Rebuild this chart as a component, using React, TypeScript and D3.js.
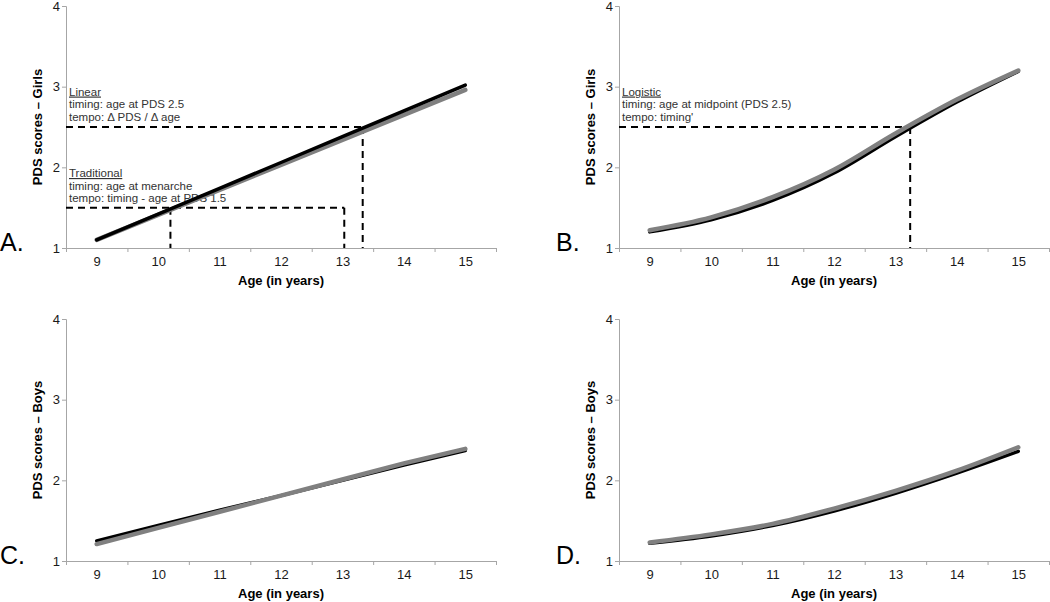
import React, { useRef, useEffect } from "react";
import * as d3 from "d3";

// Edad (categorías del eje X)
const ages = [9, 10, 11, 12, 13, 14, 15];
const yTicks = [1, 2, 3, 4];

// Series
const girlsLinearBlack = [1.1, 1.42, 1.74, 2.06, 2.38, 2.7, 3.02];
const girlsLinearGray = [1.1, 1.41, 1.72, 2.03, 2.34, 2.65, 2.96];
const girlsLogisticBlack = [1.2, 1.35, 1.59, 1.93, 2.38, 2.81, 3.19];
const girlsLogisticGray = [1.22, 1.38, 1.63, 1.97, 2.42, 2.84, 3.2];
const boysLinearBlack = [1.25, 1.44, 1.63, 1.81, 2.0, 2.19, 2.37];
const boysLinearGray = [1.21, 1.41, 1.61, 1.81, 2.01, 2.21, 2.39];
const boysLogisticBlack = [1.22, 1.31, 1.44, 1.62, 1.84, 2.09, 2.36];
const boysLogisticGray = [1.23, 1.33, 1.46, 1.65, 1.87, 2.12, 2.41];

// Líneas de referencia (edad, PDS)
const linearTiming = { age: 13.33, pds: 2.5 };
const traditional = { menarche: 10.2, end: 13.03, pds: 1.5 };
const logisticTiming = { age: 13.24, pds: 2.5 };

const linearNotes = ["Linear", "timing: age at PDS 2.5", "tempo: \u0394 PDS / \u0394 age"];
const traditionalNotes = ["Traditional", "timing: age at menarche", "tempo: timing - age at PDS 1.5"];
const logisticNotes = ["Logistic", "timing: age at midpoint (PDS 2.5)", "tempo: timing'"];

const FONT = "'Liberation Sans', Arial, sans-serif";

const panels = [
  { key: "A", left: 66, top: 6, yTitle: "PDS scores \u2013 Girls", black: girlsLinearBlack, gray: girlsLinearGray, blackOnTop: true, kind: "linear" },
  { key: "B", left: 619, top: 6, yTitle: "PDS scores \u2013 Girls", black: girlsLogisticBlack, gray: girlsLogisticGray, blackOnTop: false, kind: "logistic" },
  { key: "C", left: 66, top: 319, yTitle: "PDS scores \u2013 Boys", black: boysLinearBlack, gray: boysLinearGray, blackOnTop: false, kind: "none" },
  { key: "D", left: 619, top: 319, yTitle: "PDS scores \u2013 Boys", black: boysLogisticBlack, gray: boysLogisticGray, blackOnTop: false, kind: "none" },
];

const App = () => {
  const ref = useRef<SVGSVGElement>(null);

  useEffect(() => {
    const root = d3.select(ref.current);
    root.selectChildren().remove();

    const w = 430,
      h = 242;

    panels.forEach((p) => {
      const g = root
        .append("g")
        .attr("transform", `translate(${p.left}, ${p.top})`)
        .style("font-family", FONT);

      const x = d3.scaleLinear().domain([8.5, 15.5]).range([0, w]);
      const y = d3.scaleLinear().domain([1, 4]).range([h, 0]);

      // Eje Y
      const yAxis = g
        .append("g")
        .call(d3.axisLeft(y).tickValues(yTicks).tickFormat(d3.format("d")).tickSize(4).tickPadding(2));
      yAxis.select(".domain").attr("stroke", "#a6a6a6");
      yAxis.selectAll(".tick line").attr("stroke", "#a6a6a6");
      yAxis.selectAll("text").style("font-size", "13px").attr("fill", "#1a1a1a").style("font-family", FONT);

      // Eje X: marcas en los límites de categoría
      const xAxis = g
        .append("g")
        .attr("transform", `translate(0, ${h})`)
        .call(d3.axisBottom(x).tickValues(d3.range(8.5, 15.6, 1)).tickFormat(() => "").tickSize(4).tickSizeOuter(0));
      xAxis.select(".domain").attr("stroke", "#a6a6a6");
      xAxis.selectAll(".tick line").attr("stroke", "#a6a6a6");

      const xLabels = g
        .append("g")
        .attr("transform", `translate(0, ${h})`)
        .call(d3.axisBottom(x).tickValues(ages).tickFormat(d3.format("d")).tickSize(0).tickPadding(9));
      xLabels.select(".domain").remove();
      xLabels.selectAll("text").style("font-size", "13px").attr("fill", "#1a1a1a").style("font-family", FONT);

      // Títulos
      g.append("text")
        .attr("x", w / 2)
        .attr("y", h + 37)
        .attr("text-anchor", "middle")
        .style("font-size", "13px")
        .style("font-weight", "bold")
        .text("Age (in years)");

      g.append("text")
        .attr("transform", "rotate(-90)")
        .attr("x", -h / 2)
        .attr("y", -24)
        .attr("text-anchor", "middle")
        .style("font-size", "13px")
        .style("font-weight", "bold")
        .text(p.yTitle);

      // Letra del panel
      g.append("text")
        .attr("x", p.left === 66 ? -66 : -63)
        .attr("y", h + 3)
        .style("font-size", "25px")
        .text(`${p.key}.`);

      // Guías discontinuas
      const dash = (x1: number, y1: number, x2: number, y2: number) =>
        g
          .append("line")
          .attr("x1", x(x1))
          .attr("y1", y(y1))
          .attr("x2", x(x2))
          .attr("y2", y(y2))
          .attr("stroke", "#000")
          .attr("stroke-width", 2)
          .attr("stroke-dasharray", "7,5");

      const notes = (lines: string[], pds: number) => {
        const t = g
          .append("text")
          .attr("x", 3)
          .attr("y", y(pds))
          .style("font-size", "11.5px")
          .attr("fill", "#333");
        lines.forEach((l, i) =>
          t
            .append("tspan")
            .attr("x", 3)
            .attr("dy", i === 0 ? 0 : 12.5)
            .style("text-decoration", i === 0 ? "underline" : "none")
            .text(l)
        );
      };

      if (p.kind === "linear") {
        dash(8.5, linearTiming.pds, linearTiming.age, linearTiming.pds);
        dash(linearTiming.age, linearTiming.pds, linearTiming.age, 1);
        dash(8.5, traditional.pds, traditional.end, traditional.pds);
        dash(traditional.menarche, traditional.pds, traditional.menarche, 1);
        dash(traditional.end, traditional.pds, traditional.end, 1);
        notes(linearNotes, 2.89);
        notes(traditionalNotes, 1.88);
      } else if (p.kind === "logistic") {
        dash(8.5, logisticTiming.pds, logisticTiming.age, logisticTiming.pds);
        dash(logisticTiming.age, logisticTiming.pds, logisticTiming.age, 1);
        notes(logisticNotes, 2.89);
      }

      // Curvas
      const line = d3
        .line<number>()
        .x((_, i) => x(ages[i]))
        .y((d) => y(d))
        .curve(p.kind === "linear" || p.key === "C" ? d3.curveLinear : d3.curveMonotoneX);

      const drawBlack = () =>
        g.append("path").attr("d", line(p.black)).attr("fill", "none").attr("stroke", "#000")
          .attr("stroke-width", 3.5).attr("stroke-linecap", "round");
      const drawGray = () =>
        g.append("path").attr("d", line(p.gray)).attr("fill", "none").attr("stroke", "#808080")
          .attr("stroke-width", 4.5).attr("stroke-linecap", "round");

      if (p.blackOnTop) {
        drawGray();
        drawBlack();
      } else {
        drawBlack();
        drawGray();
      }
    });
  }, []);

  return (
    <svg
      ref={ref}
      width={1050}
      height={602}
      style={{ position: "absolute", left: 0, top: 0, background: "#fff" }}
    />
  );
};

export default App;
